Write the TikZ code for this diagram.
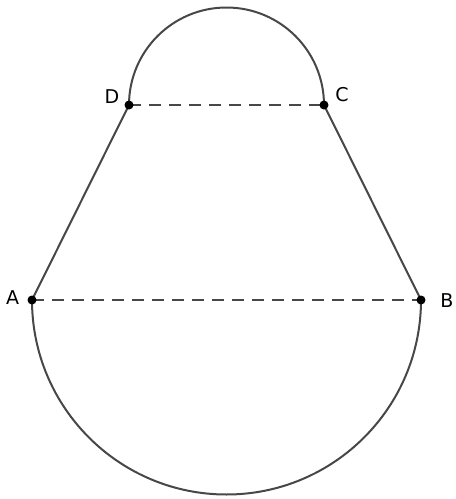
\documentclass[tikz,border=0pt]{standalone}
\usepackage{fontspec}
\setmainfont{DejaVu Sans}
\usetikzlibrary{calc}
\definecolor{edge}{HTML}{474747}

\begin{document}
\begin{tikzpicture}[x=1pt,y=-1pt,line width=2pt,
  outline/.style={draw=edge},
  chord/.style={draw=edge,dash pattern=on 12pt off 8pt},
  vertex/.style={circle,fill=black,inner sep=0pt,minimum size=9pt},
  tag/.style={font=\fontsize{19}{22}\selectfont,text=black}]
  \useasboundingbox (0,0) rectangle (456,499);
  % points
  \coordinate (A) at (32,300);
  \coordinate (B) at (421,300);
  \coordinate (C) at (324,105);
  \coordinate (D) at (129,105);
  % outline
  \draw[outline] (D) -- (A) arc[start angle=180,end angle=0,radius=194.5]
    -- (C) arc[start angle=0,end angle=-180,radius=97.5];
  \draw[chord] (A) -- (B);
  \draw[chord] (D) -- (C);
  \foreach \p in {A,B,C,D}
    \node[vertex] (v\p) at (\p) {};
  \node[tag] (lA) at (12.5,298) {A};
  \node[tag] (lB) at (447,301) {B};
  \node[tag] (lC) at (342,95) {C};
  \node[tag] (lD) at (112,97) {D};
\end{tikzpicture}
\end{document}
